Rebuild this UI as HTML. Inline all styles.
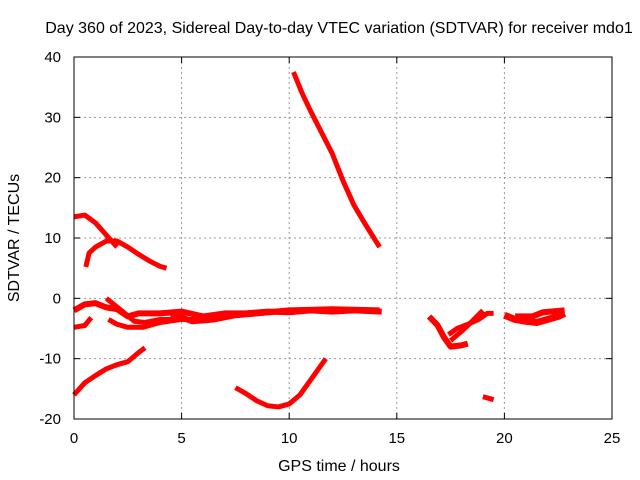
<!DOCTYPE html>
<html><head><meta charset="utf-8"><style>
body{margin:0;background:#fff}
svg{display:block;font-family:"Liberation Sans",sans-serif}
</style></head><body>
<svg id="chart" width="640" height="480">
<text x="339" y="33" font-size="16" text-anchor="middle">Day 360 of 2023, Sidereal Day-to-day VTEC variation (SDTVAR) for receiver mdo1</text>
<text x="339" y="471" font-size="16" text-anchor="middle">GPS time / hours</text>
<text transform="translate(19,238) rotate(-90)" font-size="16" text-anchor="middle">SDTVAR / TECUs</text>
<g id="grid"></g><g id="series"></g>
<rect x="74" y="57" width="538" height="362" fill="none" stroke="#000"/>
<g id="ticks"></g>
</svg>
<script>
const xTicks=[0,5,10,15,20,25];
const yTicks=[-20,-10,0,10,20,30,40];
const s1=[[10.2,37.5],[10.6,34],[11,31],[11.5,27.5],[12,24],[12.5,19.5],[13,15.5],[13.5,12.5],[14.2,8.5]];
const s2=[[0,13.5],[0.5,13.8],[1,12.5],[1.5,10.5],[2,8.5]];
const s3=[[0.55,5.2],[0.7,7.5],[1,8.5],[1.5,9.5],[2,9.5],[2.5,8.5],[3,7.3],[3.5,6.2],[4,5.3],[4.3,5]];
const s4=[[0,-2],[0.5,-1],[1,-0.8],[1.5,-1.5],[2,-1.8],[2.5,-3],[3,-2.5],[4,-2.5],[5,-2.2],[6,-3],[7,-2.5],[8,-2.5],[9,-2.2],[10,-2.3],[11,-2],[12,-2.2],[13,-2],[14.3,-2.2]];
const s5=[[0,-4.8],[0.5,-4.5],[0.8,-3.2]];
const s6=[[1.5,0],[2.2,-2],[2.8,-3.8],[3.3,-4],[4,-3.5],[5,-3.5],[6,-3.5],[7,-3]];
const s7=[[1.6,-3.5],[2,-4.3],[2.5,-4.8],[3.2,-4.8],[4,-4],[5,-3.5]];
const s8=[[0,-16],[0.5,-14],[1,-12.8],[1.5,-11.7],[2,-11],[2.5,-10.5],[3,-9],[3.3,-8.2]];
const s9=[[7.5,-14.8],[8,-15.8],[8.5,-17],[9,-17.8],[9.5,-18],[10,-17.5],[10.5,-16],[11,-13.5],[11.7,-10]];
const s10=[[16.5,-3],[16.9,-4.5],[17.2,-6.5],[17.5,-8],[18,-7.8],[18.3,-7.5]];
const s11=[[17.4,-6],[17.8,-5],[18.3,-4.3],[18.8,-3.5],[19.2,-2.5],[19.5,-2.5]];
const s12=[[17.5,-7],[18,-5.5],[18.5,-3.8],[19,-2]];
const s13=[[19,-16.3],[19.5,-16.8]];
const s14=[[20,-2.8],[20.5,-3.5],[21,-3.8],[21.5,-4],[22,-3.5],[22.5,-3],[22.8,-2.5]];
const s15=[[20.5,-3],[21.3,-3],[21.8,-2.3],[22.8,-2]];
const s16=[[4.5,-2.5],[5.5,-3.8],[6.5,-3.5],[7.5,-2.8],[8.5,-2.5],[10,-2],[12,-1.8],[14.2,-2]];
const allSeries=[s1,s2,s3,s4,s5,s6,s7,s8,s9,s10,s11,s12,s13,s14,s15,s16];
const widths=[5,5,5,6,5,5,5,5,5,6,5,5,5,7,6,6];
const X=h=>74+h*538/25, Y=v=>57+(40-v)*362/60;
const NS="http://www.w3.org/2000/svg";
const grid=document.getElementById('grid'),ticks=document.getElementById('ticks'),ser=document.getElementById('series');
function mk(tag,attrs,parent){const e=document.createElementNS(NS,tag);for(const k in attrs)e.setAttribute(k,attrs[k]);parent.appendChild(e);return e;}
xTicks.forEach(t=>{
 if(t>0&&t<25){const g=mk('line',{x1:X(t),x2:X(t),y1:57,y2:419,stroke:'#999','stroke-dasharray':'2,3'},grid);
 
 }
 mk('line',{x1:X(t),x2:X(t),y1:419,y2:413,stroke:'#000'},ticks);
 mk('line',{x1:X(t),x2:X(t),y1:57,y2:63,stroke:'#000'},ticks);
 const l=mk('text',{x:X(t),y:443,'font-size':15,'text-anchor':'middle'},ticks);l.textContent=t;
 
 
});
yTicks.forEach(t=>{
 if(t>-20&&t<40){const g=mk('line',{x1:74,x2:612,y1:Y(t),y2:Y(t),stroke:'#999','stroke-dasharray':'2,3'},grid);
 
 }
 mk('line',{x1:74,x2:80,y1:Y(t),y2:Y(t),stroke:'#000'},ticks);
 mk('line',{x1:612,x2:606,y1:Y(t),y2:Y(t),stroke:'#000'},ticks);
 const l=mk('text',{x:61,y:Y(t)+5,'font-size':15,'text-anchor':'end'},ticks);l.textContent=t;
 
 
});
allSeries.forEach((s,i)=>{
 const p=mk('polyline',{points:s.map(d=>X(d[0])+','+Y(d[1])).join(' '),fill:'none',stroke:'#f00','stroke-width':widths[i],'stroke-linejoin':'round'},ser);
 
 
});
</script>
</body></html>
